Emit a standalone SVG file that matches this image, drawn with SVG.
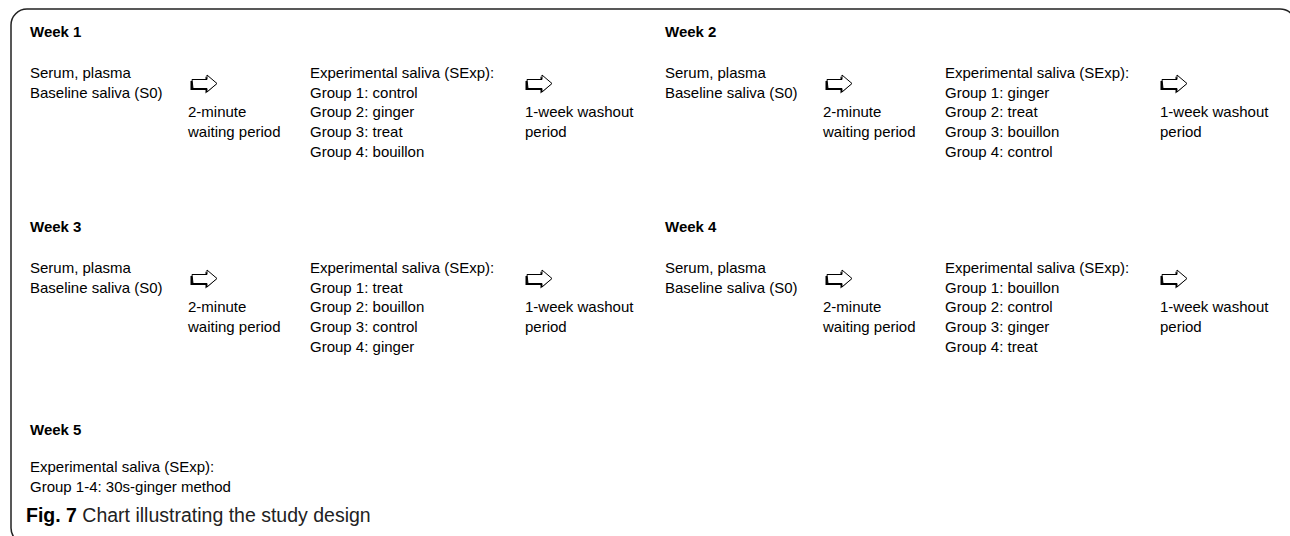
<svg xmlns="http://www.w3.org/2000/svg" xmlns:xlink="http://www.w3.org/1999/xlink" width="1290" height="536" viewBox="0 0 1290 536">
<style>
text{font-family:"Liberation Sans",Arial,sans-serif;font-size:15px;fill:#000}
.b{font-weight:bold}
.cap{font-size:19.5px;fill:#222}
.frame{fill:none;stroke:#222;stroke-width:1.5}
</style>
<defs>
<g id="arr">
<polygon points="-1.5,6 13.5,6 13.5,1.5 23.5,10 13.5,18.5 13.5,15 -1.5,15" fill="#000"/>
<polygon points="0,4.5 15,4.5 15,0 25,8.5 15,17 15,13.5 1,13.5" fill="#fff" stroke="#000" stroke-width="1"/>
</g>
<g id="blk">
<text x="30" y="78">Serum, plasma</text>
<text x="30" y="97.7">Baseline saliva (S0)</text>
<text x="188" y="117">2-minute</text>
<text x="188" y="137">waiting period</text>
<text x="310" y="78">Experimental saliva (SExp):</text>
<text x="525" y="117">1-week washout</text>
<text x="525" y="137">period</text>
</g>
</defs>
<rect class="frame" x="11" y="9" width="1285" height="535" rx="16"/>
<g id="week1">
<text class="b" x="30" y="37">Week 1</text>
<use xlink:href="#blk"/>
<text x="310" y="97.7">Group 1: control</text>
<text x="310" y="117.4">Group 2: ginger</text>
<text x="310" y="137.1">Group 3: treat</text>
<text x="310" y="156.8">Group 4: bouillon</text>
</g>
<g id="week2" transform="translate(635,0)">
<text class="b" x="30" y="37">Week 2</text>
<use xlink:href="#blk"/>
<text x="310" y="97.7">Group 1: ginger</text>
<text x="310" y="117.4">Group 2: treat</text>
<text x="310" y="137.1">Group 3: bouillon</text>
<text x="310" y="156.8">Group 4: control</text>
</g>
<g id="week3" transform="translate(0,195)">
<text class="b" x="30" y="37">Week 3</text>
<use xlink:href="#blk"/>
<text x="310" y="97.7">Group 1: treat</text>
<text x="310" y="117.4">Group 2: bouillon</text>
<text x="310" y="137.1">Group 3: control</text>
<text x="310" y="156.8">Group 4: ginger</text>
</g>
<g id="week4" transform="translate(635,195)">
<text class="b" x="30" y="37">Week 4</text>
<use xlink:href="#blk"/>
<text x="310" y="97.7">Group 1: bouillon</text>
<text x="310" y="117.4">Group 2: control</text>
<text x="310" y="137.1">Group 3: ginger</text>
<text x="310" y="156.8">Group 4: treat</text>
</g>
<g id="week5">
<text class="b" x="30" y="435">Week 5</text>
<text x="30" y="472">Experimental saliva (SExp):</text>
<text x="30" y="491.5">Group 1-4: 30s-ginger method</text>
</g>
<g id="connectors">
<use xlink:href="#arr" x="192" y="75"/>
<use xlink:href="#arr" x="527" y="75"/>
<use xlink:href="#arr" x="827" y="75"/>
<use xlink:href="#arr" x="1162" y="75"/>
<use xlink:href="#arr" x="192" y="270"/>
<use xlink:href="#arr" x="527" y="270"/>
<use xlink:href="#arr" x="827" y="270"/>
<use xlink:href="#arr" x="1162" y="270"/>
</g>
<g id="caption">
<text class="cap" x="26" y="522"><tspan class="b" fill="#000">Fig. 7</tspan> Chart illustrating the study design</text>
</g>
</svg>
